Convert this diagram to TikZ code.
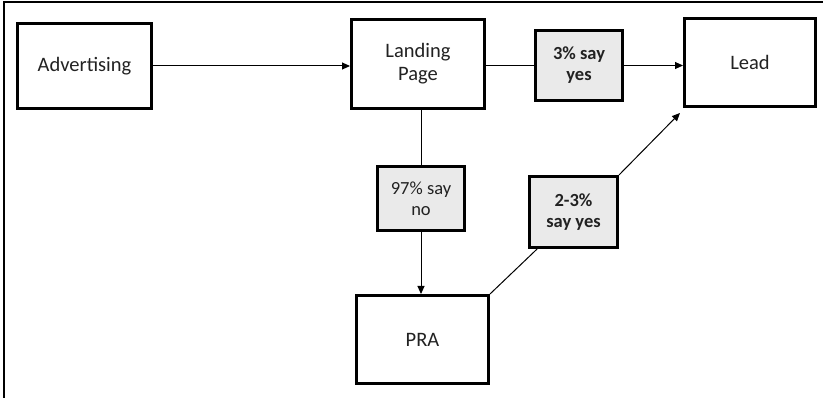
\documentclass[tikz,border=0pt]{standalone}
\usepackage{fontspec}
\setmainfont{Carlito}
\usetikzlibrary{arrows.meta,calc}
\definecolor{boxfill}{HTML}{EAEAEA}
\definecolor{inkgray}{HTML}{222222}
\tikzset{
  mainbox/.style={draw=black, line width=3pt, fill=white, align=center,
    font=\fontsize{20.5}{23}\selectfont, text=inkgray, inner sep=0pt},
  tagbox/.style={draw=black, line width=3pt, fill=boxfill, align=center,
    font=\fontsize{18.5}{21}\selectfont, text=inkgray, inner sep=0pt},
  link/.style={line width=1pt, black},
  arrowlink/.style={link, -{Triangle[length=8pt,width=7pt]}},
}
\begin{document}
\begin{tikzpicture}[x=1pt,y=-1pt]
\useasboundingbox (0,0) rectangle (823,398);
% page frame (top and left edges)
\draw[line width=1.5pt] (4,398) -- (4,2) -- (823,2);

% boxes
\node[mainbox, minimum width=134pt, minimum height=85pt] (adv)  at (84.5,66)  {Advertising};
\node[mainbox, minimum width=133pt, minimum height=89pt] (land) at (418,64)   {Landing\\Page};
\node[tagbox,  minimum width=87pt,  minimum height=70pt] (yes3) at (579,65.5) {\bfseries 3\% say\\\bfseries yes};
\node[mainbox, minimum width=131pt, minimum height=88pt] (lead) at (750,62.5) {Lead};
\node[tagbox,  minimum width=87pt,  minimum height=64pt] (no97) at (421,198.5) {97\% say\\no};
\node[tagbox,  minimum width=88pt,  minimum height=71pt] (yes23) at (573.5,212) {\bfseries 2-3\%\\\bfseries say yes};
\node[mainbox, minimum width=132pt, minimum height=88pt] (pra)  at (422.5,339.5) {PRA};

\coordinate (leadin) at ($(lead.south west)+(-3,5)$);

% connectors
\draw[arrowlink] (adv.east) -- (adv.east -| land.west);
\draw[link] (land.east |- yes3.west) -- (yes3.west);
\draw[arrowlink] (yes3.east) -- (yes3.east -| lead.west);
\draw[link] (no97.north |- land.south) -- (no97.north);
\draw[arrowlink] (no97.south) -- (no97.south |- pra.north);
\draw[link] (pra.north east) -- ($(yes23.south west)!0.1!(yes23.south east)$);
\draw[arrowlink] (yes23.north east) -- (leadin);
\end{tikzpicture}
\end{document}
